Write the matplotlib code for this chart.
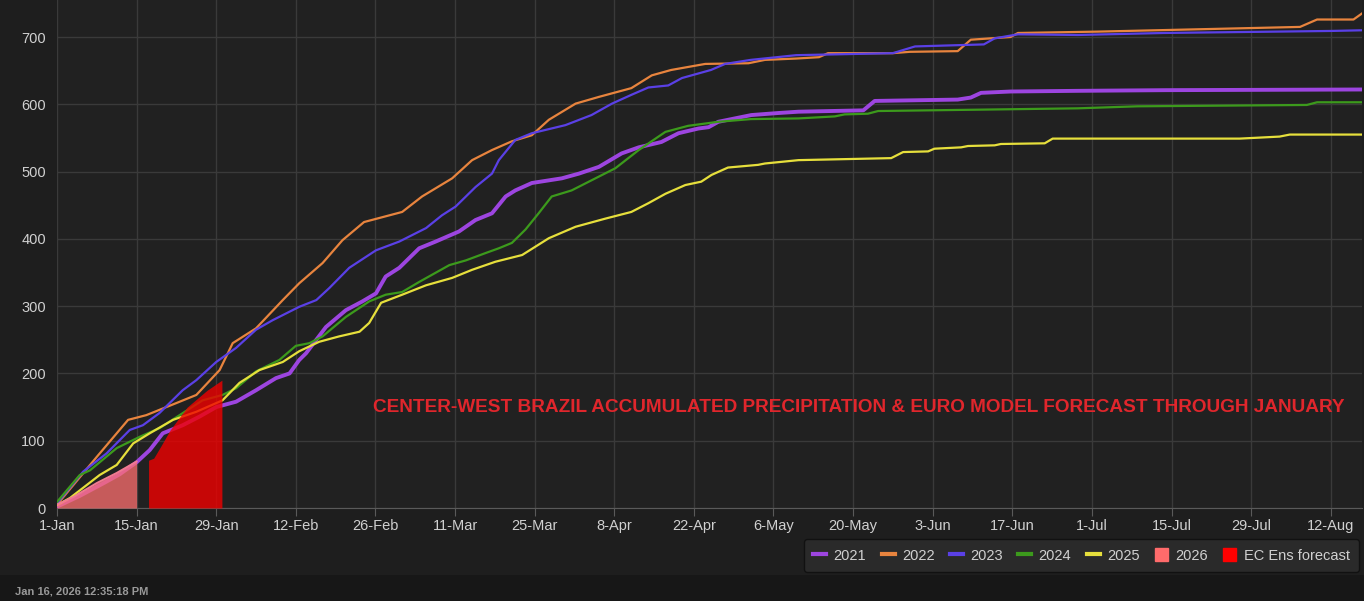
import matplotlib
matplotlib.use("Agg")
import matplotlib.pyplot as plt
from matplotlib.lines import Line2D
from matplotlib.patches import Patch, Rectangle

plt.rcParams['font.family'] = ['Liberation Sans', 'DejaVu Sans']

# x = day of year (leap-year axis, 1-Jan = 0)
tick_days = [0, 14, 28, 42, 56, 70, 84, 98, 112, 126, 140, 154, 168, 182, 196, 210, 224]
tick_labels = ['1-Jan', '15-Jan', '29-Jan', '12-Feb', '26-Feb', '11-Mar', '25-Mar', '8-Apr',
               '22-Apr', '6-May', '20-May', '3-Jun', '17-Jun', '1-Jul', '15-Jul', '29-Jul', '12-Aug']

d2021 = [0, 4, 8, 11, 14, 16.3, 18.6, 22.1, 25.1, 28, 31.5, 35, 38.5, 40.9, 42.6, 43.8, 47.3, 50.8,
         53.7, 56.1, 57.8, 60.2, 63.7, 66.6, 70.7, 73.6, 76.5, 78.9, 80.6, 83.5, 88.8, 91.8, 95.3,
         99.3, 102.3, 106.3, 109.3, 112.8, 114.6, 116.3, 122.1, 126.8, 130.4, 141.8, 143.8, 158.4,
         160.7, 162.5, 167.7, 179.5, 195, 229.5]
v2021 = [2, 18, 36, 50, 68, 86, 111, 123, 136, 150, 158, 175, 193, 200, 220, 230, 269, 294,
         307, 319, 344, 357, 386, 396, 411, 428, 438, 463, 472, 483, 490, 497, 507,
         527, 536, 544, 557, 564, 566, 574, 584, 587, 589, 591, 605, 607,
         610, 617, 619, 620, 621, 622]

d2022 = [0, 7, 12.5, 15.7, 21, 24.5, 28.6, 30.9, 35, 39.7, 42.6, 46.7, 50.2, 54, 60.7, 64.2, 69.5,
         73, 76.5, 80, 83.5, 86.5, 91.2, 95.3, 101, 104.6, 108, 114, 121.6, 124.5, 130, 134, 135.6,
         147, 150, 158.4, 160.7, 167.7, 169, 183, 218.6, 221.6, 228, 229.5]
v2022 = [5, 76, 131, 138, 156, 168, 205, 245, 267, 309, 334, 364, 398, 425, 440, 463, 490,
         517, 532, 545, 554, 577, 601, 611, 624, 643, 651, 660, 661, 666, 668, 670, 676,
         676, 678, 679, 696, 700, 706, 708, 715, 726, 726, 735]

d2023 = [0, 4.6, 8.7, 12.8, 15.1, 18, 22.1, 24.5, 28, 31.5, 35, 37.9, 42.6, 45.6, 47.9, 51.4, 56.1,
         60.2, 64.9, 67.7, 70.1, 73.6, 76.5, 77.7, 80.6, 83.5, 89.4, 94, 97.6, 101, 104, 107.5, 109.9,
         115, 117.5, 122, 130, 147, 150.9, 163, 164.9, 169, 179.5, 194.7, 224, 229.5]
v2023 = [7, 54, 81, 116, 123, 141, 175, 190, 217, 238, 265, 279, 299, 309, 327, 357, 383,
         396, 416, 435, 448, 477, 497, 517, 547, 557, 569, 584, 601, 614, 625, 628, 639,
         651, 660, 666, 673, 676, 686, 689, 698, 704, 703, 706, 709, 710]

d2024 = [0, 4, 5.8, 10.5, 14.6, 18.1, 22.1, 25.6, 29.1, 31.5, 35, 39.1, 42, 44.4, 46.7, 50.8, 54.9,
         57.8, 60.7, 63.7, 69, 71.9, 75.4, 77.7, 80, 82.4, 84.7, 87, 90.5, 94, 98.2, 102.3, 107, 111,
         116.3, 122, 130.4, 136.8, 138.5, 142.6, 144.4, 179.5, 190, 219.8, 221.6, 229.5]
v2024 = [9, 49, 56, 89, 106, 119, 141, 160, 168, 178, 203, 220, 241, 245, 255, 284, 307,
         317, 321, 336, 361, 368, 379, 386, 394, 414, 438, 463, 472, 487, 505, 532, 559, 568,
         574, 578, 579, 582, 585, 586, 590, 594, 597, 599, 603, 603]

d2025 = [0, 2.3, 7.5, 10.5, 13.4, 16.3, 20.4, 24.5, 29.1, 32.1, 35.6, 39.7, 42.6, 46.1, 49.6, 53.2,
         54.9, 57, 60.7, 64.9, 69.5, 73, 77.1, 81.8, 86.5, 91.2, 96.4, 101, 104, 107, 110.5, 113.3,
         115.1, 118, 123.3, 124.5, 130.4, 146.7, 148.8, 153.2, 154.3, 159, 160.2, 164.9, 166, 173.7,
         175.1, 208, 215, 216.8, 229.5]
v2025 = [4, 15, 49, 64, 96, 111, 131, 143, 160, 186, 205, 217, 233, 247, 255, 262,
         275, 305, 317, 331, 342, 354, 366, 376, 401, 418, 430, 440, 453, 467, 480, 485,
         495, 506, 510, 512, 517, 520, 529, 530, 534, 536, 538, 539, 541, 542,
         549, 549, 552, 555, 555]

d2026 = [0, 3, 7, 10.5, 14]
v2026 = [5, 17, 37, 52, 69]

d_fc = [16.1, 17, 18.2, 19.9, 22.9, 26.4, 29]
v_fc = [71, 74, 91, 116, 150, 175, 190]

years = ['2021', '2022', '2023', '2024', '2025']
colors = ['#9d45e0', '#e8843e', '#5a40e6', '#3c9a1c', '#e6df3c']
widths = [2.8, 1.6, 1.6, 1.6, 1.6]
series = [(d2021, v2021), (d2022, v2022), (d2023, v2023), (d2024, v2024), (d2025, v2025)]

bg = '#212121'
fig = plt.figure(figsize=(13.64, 6.01), dpi=100, facecolor='#1e1e1e')
fig.patches.append(Rectangle((0, 0), 1, 26 / 601, transform=fig.transFigure,
                             facecolor='#171717', edgecolor='none', zorder=0))
ax = fig.add_axes([57 / 1364, 93 / 601, 1305 / 1364, 508 / 601])
ax.set_facecolor(bg)

for (d, v), c, w in zip(series, colors, widths):
    ax.plot(d, v, color=c, lw=w, zorder=3, solid_joinstyle='round')

ax.fill_between(d2026, 0, v2026, color='#ff7070', alpha=0.75, lw=0, zorder=4)
ax.plot(d2026, v2026, color='#f07a90', lw=1.5, zorder=4)
ax.fill_between(d_fc, 0, v_fc, color='#f00000', alpha=0.8, lw=0, zorder=4)

ax.set_xlim(0, 229.5)
ax.set_ylim(0, 755)
ax.set_xticks(tick_days)
ax.set_xticklabels(tick_labels)
ax.set_yticks(range(0, 800, 100))
ax.grid(True, color='#3a3a3a', lw=1)
ax.set_axisbelow(True)
for s in ['top', 'right', 'left']:
    ax.spines[s].set_visible(False)
ax.spines['bottom'].set_color('#5a5a5a')
ax.tick_params(axis='x', colors='#5a5a5a', length=6, labelcolor='#d0d0d0', labelsize=10.5, pad=2)
ax.tick_params(axis='y', length=0, labelcolor='#d0d0d0', labelsize=10.5, pad=8)

fig.text(1345 / 1364, 1 - 407 / 601,
         'CENTER-WEST BRAZIL ACCUMULATED PRECIPITATION & EURO MODEL FORECAST THROUGH JANUARY',
         fontweight='bold', fontsize=13.7, color='#e0262c', ha='right', va='center')

handles = [Line2D([], [], color=c, lw=3) for c in colors]
handles += [Patch(color='#ff6b6b'), Patch(color='#ff0000')]
labels = years + ['2026', 'EC Ens forecast']
leg = fig.legend(handles, labels, loc='center', bbox_to_anchor=(1081.5 / 1364, 1 - 555.5 / 601),
                 ncol=7, frameon=True, facecolor='#2a2a2a', edgecolor='#111111', framealpha=1,
                 fontsize=10.5, handlelength=0.9, handleheight=0.9, handletextpad=0.5,
                 columnspacing=1.05, borderpad=0.65)
for t in leg.get_texts():
    t.set_color('#d0d0d0')

fig.text(15 / 1364, 9 / 601, 'Jan 16, 2026 12:35:18 PM', fontsize=8, fontweight='bold',
         color='#9a9a9a', ha='left', va='center')

fig.savefig('out.png', dpi=100, facecolor=fig.get_facecolor())
